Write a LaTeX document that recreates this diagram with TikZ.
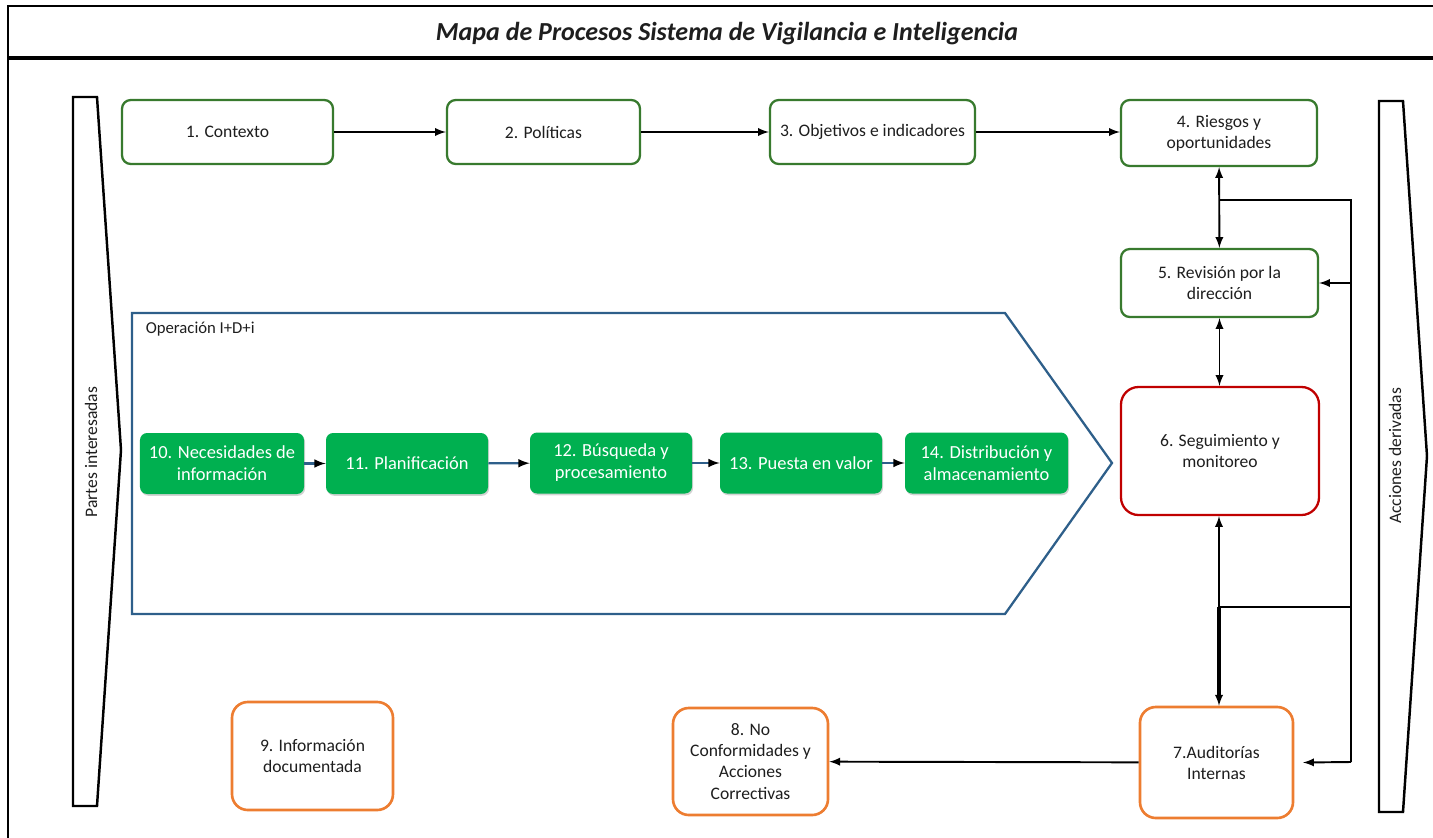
\documentclass[tikz,border=0pt]{standalone}
\usepackage{fontspec}
\setmainfont{Carlito}
\usetikzlibrary{shadows}
\definecolor{boxgreen}{RGB}{56,122,46}
\definecolor{fillgreen}{RGB}{0,176,80}
\definecolor{boxred}{RGB}{192,0,0}
\definecolor{boxorange}{RGB}{237,125,49}
\definecolor{opblue}{RGB}{46,95,138}
\definecolor{txtgray}{RGB}{30,30,30}
\begin{document}
\begin{tikzpicture}[x=0.2mm,y=-0.2mm,>=latex,
  every node/.style={font=\fontsize{10}{12}\selectfont,text=txtgray,align=center,inner sep=2pt},
  topbox/.style={draw=boxgreen,line width=1.3pt,rounded corners=5pt,fill=white,minimum height=1.28cm},
  redbox/.style={draw=boxred,line width=1.3pt,rounded corners=10pt,fill=white},
  orbox/.style={draw=boxorange,line width=1.5pt,rounded corners=9pt,fill=white},
  opbox/.style={fill=fillgreen,rounded corners=4pt,text=white,minimum width=3.24cm,minimum height=1.22cm,
    font=\fontsize{10.5}{12.5}\selectfont,drop shadow={opacity=0.35,shadow xshift=0.6pt,shadow yshift=-1pt}},
  conn/.style={line width=1.1pt},
  opconn/.style={line width=1.2pt,draw=opblue}]
  \useasboundingbox (0,0) rectangle (1433,838);

  % frame and title
  \draw[line width=0.8pt] (8,838) -- (8,6) -- (1433,6);
  \draw[line width=2pt] (8,58) -- (1433,58);
  \node at (727,34) (title) {\fontsize{14.8}{17}\selectfont\bfseries\itshape Mapa de Procesos Sistema de Vigilancia e Inteligencia};

  % side chevrons
  \draw[line width=1.4pt] (73,97) -- (97,97) -- (121,450) -- (97,806) -- (73,806) -- cycle;
  \node[rotate=90] at (91,452) (partes) {Partes interesadas};
  \draw[line width=1.4pt] (1379,101) -- (1403,101) -- (1427,456) -- (1403,812) -- (1379,812) -- cycle;
  \node[rotate=90] at (1395,456) (acciones) {Acciones derivadas};

  % top row
  \node[topbox,minimum width=4.22cm] at (227.5,132) (ctx) {1. Contexto};
  \node[topbox,minimum width=3.86cm] at (543.5,132) (pol) {2. Políticas};
  \node[topbox,minimum width=4.1cm] at (872.5,132) (obj) {3. Objetivos e indicadores};
  \node[topbox,minimum width=3.92cm,minimum height=1.32cm] at (1219,133) (rie) {4. Riesgos y\\oportunidades};

  \draw[conn] (ctx) edge[->] (pol);
  \draw[conn] (pol) edge[->] (obj);
  \draw[conn,->] (obj.east) -- (obj.east -| rie.west);

  % right column
  \node[topbox,minimum width=3.94cm,minimum height=1.36cm] at (1219.5,283) (rev) {5. Revisión por la\\dirección};
  \node[redbox,minimum width=3.96cm,minimum height=2.56cm] at (1220,451) (seg) {6. Seguimiento y\\monitoreo};
  \node[orbox,minimum width=3.06cm,minimum height=2.22cm] at (1216.5,762.5) (aud) {7.Auditorías\\Internas};
  \node[orbox,minimum width=3.1cm,minimum height=2.14cm] at (750.5,761.5) (noc) {8. No\\Conformidades y\\Acciones\\Correctivas};
  \node[orbox,minimum width=3.22cm,minimum height=2.16cm] at (312.5,756) (inf) {9. Información\\documentada};

  \coordinate (jtop) at (1219,200);
  \coordinate (jbot) at (1219,607);
  \coordinate (bustop) at (1351,200);
  \coordinate (busend) at (1351,762);

  \draw[conn,<->] (rie) -- (rev);
  \draw[conn,<->] (rev) -- (rev |- seg.north);
  \draw[conn,<->] (seg.south -| jtop) -- (aud.north -| jtop);
  \draw[line width=2pt] (jbot) -- ([yshift=3pt]aud.north -| jtop);
  \draw[conn] (jtop) -- (bustop) -- (busend);
  \draw[conn] (jbot) -- (jbot -| bustop);
  \draw[conn,->] (rev.east -| bustop) -- (rev.east);
  \draw[conn,->] (busend) -- ([xshift=5pt]aud.east);
  \draw[conn] (aud) edge[->] (noc);

  % operacion I+D+i
  \draw[opblue,line width=1.3pt] (132,313) -- (1005,313) -- (1112,463) -- (1005,614) -- (132,614) -- cycle;
  \node[anchor=west,font=\fontsize{9.5}{11}\selectfont] at (142,329) (op) {Operación I+D+i};

  \node[opbox,minimum width=3.28cm] at (222,463.5) (nec) {10. Necesidades de\\información};
  \node[opbox] at (407,463.5) (pla) {11. Planificación};
  \node[opbox] at (611,463) (bus) {12. Búsqueda y\\procesamiento};
  \node[opbox] at (801,463) (pue) {13. Puesta en valor};
  \node[opbox,minimum width=3.26cm] at (986.5,463) (dis) {14. Distribución y\\almacenamiento};

  \draw[opconn] (nec) edge[->] (pla);
  \draw[opconn] (pla) edge[->] (bus);
  \draw[opconn] (bus) edge[->] (pue);
  \draw[opconn] (pue) edge[->] (dis);
\end{tikzpicture}
\end{document}
